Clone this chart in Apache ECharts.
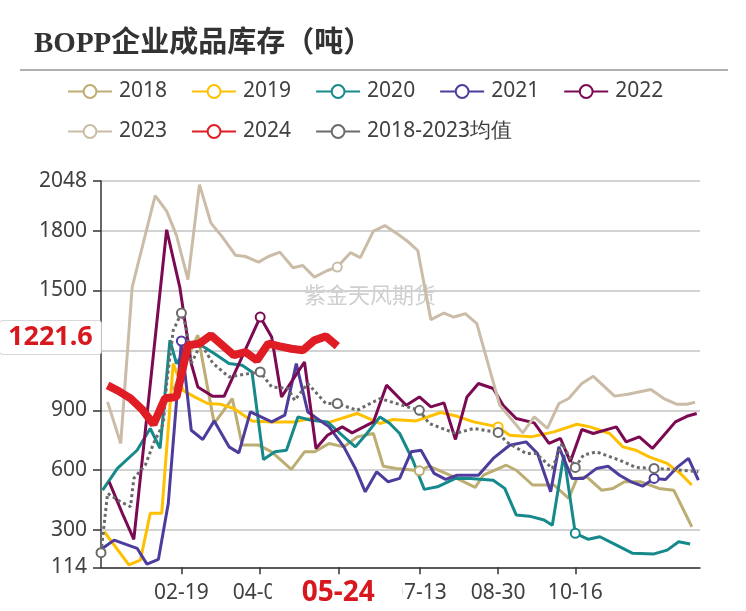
<!DOCTYPE html>
<html><head><meta charset="utf-8">
<script src="https://cdn.jsdelivr.net/npm/echarts@6/dist/echarts.min.js"></script>
<style>html,body{margin:0;padding:0;background:#fff}#c{width:746px;height:611px}</style>
</head><body><div id="c"></div>
<script>
// ---- categories: every MM-DD of a (leap) year ----
const monthLens = [31,29,31,30,31,30,31,31,30,31,30,31];
const categories = [];
monthLens.forEach((n, m) => { for (let d = 1; d <= n; d++) categories.push(String(m+1).padStart(2,'0') + '-' + String(d).padStart(2,'0')); });
const xTickLabels = ['02-19','04-07','05-25','07-13','08-30','10-16'];
const hiddenYLabels = [1200]; // covered by the pointer label in the original
const pointerDate = '05-24';
const lastValue = 1221.6;

// ---- series: day of year (0 = 01-01) and values ----
const d2018 = [44,52,59,69,80,86,96,104,116,124,130,139,148,156,166,172,180,194,200,215,228,233,247,253,263,276,285,290,296,305,312,319,329,340,349,360];
const v2018 = [1000,1150,1276,834,959,726,726,692,604,692,692,734,717,767,784,620,609,597,620,567,514,575,625,600,526,526,459,559,567,500,509,542,542,509,500,317];
const d2019 = [2,17,24,30,37,44,50,57,65,73,81,92,104,118,128,138,156,170,178,192,207,217,227,242,249,262,276,290,298,310,318,326,334,345,353,360];
const v2019 = [292,126,150,384,384,1134,1000,967,934,930,909,847,842,842,859,837,884,834,854,847,889,870,842,817,775,767,792,830,817,784,717,700,667,634,584,526];
const d2020 = [1,10,22,30,36,42,46,54,61,69,78,86,92,99,106,113,120,128,138,148,155,162,170,176,182,190,197,205,216,225,239,246,253,261,270,275,282,289,297,304,312,324,337,345,352,359];
const v2020 = [500,609,700,809,709,1251,1134,1234,1226,1184,1134,1126,1092,654,692,700,867,850,842,767,717,784,867,834,784,650,504,517,559,559,550,509,376,370,351,325,676,284,254,267,234,184,181,200,242,231];
const d2021 = [1,8,22,28,35,41,49,55,62,69,78,84,91,104,112,119,126,139,148,155,161,168,175,182,189,195,203,210,217,230,239,249,259,266,274,279,287,294,302,309,316,323,330,337,344,351,358,364];
const v2021 = [209,250,209,130,154,434,1247,800,754,847,717,687,892,842,876,1134,892,817,717,609,492,592,542,559,692,700,584,554,575,575,659,725,742,684,492,717,559,559,609,620,575,542,520,559,554,614,659,550];
const d2022 = [5,13,20,40,48,55,59,68,75,97,104,110,124,131,138,147,153,166,174,186,194,201,209,216,223,230,239,245,253,264,273,280,286,293,300,314,320,328,336,343,350,357,363];
const v2022 = [542,384,254,1804,1517,1134,1017,970,970,1367,1267,967,1142,709,775,817,787,842,1026,925,967,917,937,754,967,1034,1009,925,859,837,734,759,642,804,784,817,742,767,709,775,842,870,884];
const d2023 = [4,12,19,33,40,46,53,60,67,74,82,88,96,102,109,117,123,130,138,144,152,158,166,173,180,187,193,201,209,215,222,229,243,257,264,272,279,285,293,300,313,321,335,343,351,357,362];
const v2023 = [942,734,1517,1975,1897,1776,1554,2030,1837,1767,1676,1670,1642,1670,1692,1614,1625,1567,1600,1617,1689,1664,1797,1825,1787,1745,1700,1354,1387,1367,1384,1334,925,787,867,809,934,959,1034,1070,971,980,1004,959,930,930,940];
const d2024 = [4,11,18,25,32,39,46,53,60,67,74,81,88,95,102,109,116,123,130,137,144];
const v2024 = [1025,995,960,905,830,960,967,1226,1234,1276,1226,1176,1192,1150,1234,1220,1208,1201,1250,1270,1221.6];
const dAvg = [0,2,4,12,18,20,27,32,38,40,44,49,52,55,61,68,78,88,97,104,114,118,126,137,144,156,170,180,194,200,216,227,242,247,259,265,275,281,289,294,302,316,326,337,349,364];
const vAvg = [187,334,484,442,417,559,626,734,834,1034,1300,1387,1317,1134,1234,1137,1067,1081,1092,1017,1009,950,1034,934,934,900,959,934,900,834,784,809,789,742,684,684,609,734,614,676,692,650,614,609,604,592];

const names = ['2018','2019','2020','2021','2022','2023','2024','2018-2023均值'];
const colors = ['#bcad72','#ffc000','#16898b','#4e3c9d','#7b0a52','#cbbca8','#e01d25','#6b6b6b'];
const days = [d2018,d2019,d2020,d2021,d2022,d2023,d2024,dAvg];
const vals = [v2018,v2019,v2020,v2021,v2022,v2023,v2024,vAvg];
// days on which each series shows its hollow marker
const markerDays = [[194],[242],[289],[49,337],[97],[144],[],[0,49,97,144,194,242,289,337]];

const series = names.map((n, i) => {
  const mk = new Set(markerDays[i]);
  return {
    name: n, type: 'line',
    data: days[i].map((d, k) => [categories[d], vals[i][k]]),
    symbol: 'emptyCircle',
    symbolSize: (v) => mk.has(categories.indexOf(v[0])) ? 9 : 0,
    showSymbol: true, showAllSymbol: true,
    itemStyle: { color: colors[i], borderWidth: 2 },
    lineStyle: { color: colors[i], width: i === 6 ? 8 : 3, type: i === 7 ? 'dotted' : 'solid' },
    z: i === 6 ? 5 : (i === 7 ? 4 : 2),
    animation: false
  };
});

const chart = echarts.init(document.getElementById('c'));
const legendText = { fontSize: 21, color: '#404040', fontFamily: 'Noto Sans', padding: [0,0,0,2] };
chart.setOption({
  animation: false,
  title: { text: 'BOPP企业成品库存（吨）', left: 29, top: 25,
    textStyle: { fontFamily: '"Liberation Serif", "Noto Sans CJK SC", serif', fontWeight: 'bold', fontSize: 29, color: '#333' } },
  graphic: [
    { type: 'line', shape: { x1: 20, y1: 70, x2: 728, y2: 70 }, style: { stroke: '#b0b0b0', lineWidth: 2 } },
    { type: 'text', left: 304, top: 284, z: 0, style: { text: '紫金天风期货', fill: '#cfcfcf', font: '22px "Noto Sans CJK SC"' } }
  ],
  legend: [
    { data: names.slice(0,5), left: 62, top: 76, itemWidth: 44, itemHeight: 16, itemGap: 24, textStyle: legendText,
      lineStyle: { width: 2, type: 'solid' }, itemStyle: { borderWidth: 2 } },
    { data: names.slice(5), left: 62, top: 116, itemWidth: 44, itemHeight: 16, itemGap: 24, textStyle: legendText,
      lineStyle: { width: 2, type: 'solid' }, itemStyle: { borderWidth: 2 } }
  ],
  grid: { left: 101, right: 46, top: 181, bottom: 43.7 },
  xAxis: {
    type: 'category', data: categories, boundaryGap: false,
    axisLine: { lineStyle: { color: '#333', width: 1.5 } },
    axisTick: { length: 7, interval: (i, v) => xTickLabels.includes(v), lineStyle: { color: '#333', width: 1.5 } },
    axisLabel: { interval: (i, v) => xTickLabels.includes(v), fontSize: 21, color: '#404040', fontFamily: 'Noto Sans', margin: 15 },
    splitLine: { show: false },
    axisPointer: { show: true, status: 'show', value: pointerDate, type: 'line', lineStyle: { opacity: 0 },
      label: { show: true, fontSize: 28, fontWeight: 'bold', color: '#d7191f', fontFamily: 'Noto Sans', backgroundColor: '#fff',
        padding: [2, 28, 2, 30], margin: 10 } }
  },
  yAxis: {
    type: 'value', min: 114, max: 2048,
    axisLine: { show: true, lineStyle: { color: '#333', width: 1.5 } },
    axisTick: { show: true, length: 8, lineStyle: { color: '#333', width: 1.5 } },
    axisLabel: { fontSize: 21, color: '#404040', fontFamily: 'Noto Sans', margin: 14, showMinLabel: true, showMaxLabel: true,
      formatter: (v) => hiddenYLabels.includes(v) ? '' : String(v) },
    splitLine: { lineStyle: { color: '#d2d2d2', width: 2 } },
    axisPointer: { show: true, status: 'show', value: 1265, type: 'line', lineStyle: { opacity: 0 },
      label: { show: true, formatter: () => String(lastValue), fontSize: 27, fontWeight: 'bold', color: '#d7191f', fontFamily: 'Noto Sans',
        backgroundColor: '#fff', borderColor: '#d8d8d8', borderWidth: 1, padding: [3, 8, 3, 8], margin: 4 } }
  },
  axisPointer: { triggerOn: 'none' },
  series: series
});
</script></body></html>
